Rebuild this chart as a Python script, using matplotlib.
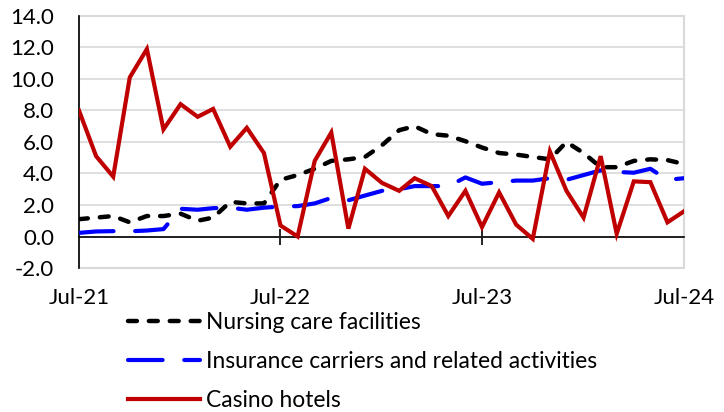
import matplotlib
matplotlib.use("Agg")
import matplotlib.pyplot as plt
import matplotlib.dates as mdates
from matplotlib.patches import Rectangle
from matplotlib.ticker import MultipleLocator, FormatStrFormatter
import pandas as pd

plt.rcParams["font.family"] = ["Lato", "DejaVu Sans"]
plt.rcParams["axes.unicode_minus"] = False

months = pd.date_range("2021-07-01", periods=37, freq="MS")

nursing = [1.1, 1.2, 1.3, 0.9, 1.3, 1.3, 1.45, 1.0, 1.2, 2.2, 2.1, 2.1,
           3.6, 3.9, 4.3, 4.8, 4.9, 5.05, 5.8, 6.75, 7.0, 6.5, 6.4, 6.05,
           5.65, 5.3, 5.2, 5.05, 4.9, 6.0, 5.3, 4.4, 4.4, 4.8, 4.9, 4.85, 4.6]
insurance = [0.23, 0.32, 0.34, 0.33, 0.38, 0.47, 1.76, 1.7, 1.8, 1.83, 1.7, 1.83,
             1.9, 1.93, 2.1, 2.45, 2.3, 2.6, 2.9, 3.0, 3.2, 3.2, 3.2, 3.75,
             3.35, 3.45, 3.55, 3.55, 3.7, 3.6, 3.9, 4.2, 4.1, 4.05, 4.3, 3.6, 3.7]
casino = [8.0, 5.1, 3.8, 10.1, 11.9, 6.8, 8.4, 7.6, 8.1, 5.7, 6.9, 5.3,
          0.7, 0.0, 4.8, 6.6, 0.5, 4.3, 3.4, 2.9, 3.7, 3.2, 1.3, 2.9,
          0.6, 2.8, 0.75, -0.15, 5.4, 2.9, 1.2, 5.1, 0.17, 3.5, 3.45, 0.9, 1.6]

fig = plt.figure(figsize=(7.24, 4.12), dpi=100)
ax = fig.add_axes([0.1091, 0.3495, 0.8357, 0.6117])

ax.plot(months, nursing, color="black", lw=3.2, dashes=(2.0, 2.7),
        dash_capstyle="round", label="Nursing care facilities", zorder=3)
ax.plot(months, insurance, color="#0000ff", lw=3.0, dashes=(8.3, 5.2),
        dash_capstyle="round", label="Insurance carriers and related activities", zorder=3)
ax.plot(months, casino, color="#c00000", lw=3.0, solid_joinstyle="miter",
        label="Casino hotels", zorder=4)

ax.set_ylim(-2, 14)
ax.set_xlim(months[0], months[-1])
ax.yaxis.set_major_locator(MultipleLocator(2))
ax.yaxis.set_major_formatter(FormatStrFormatter("%.1f"))
ax.xaxis.set_major_locator(mdates.MonthLocator(bymonth=7))
ax.xaxis.set_major_formatter(mdates.DateFormatter("%b-%y"))

ax.grid(axis="y", color="#d9d9d9", lw=1.2, zorder=0)
ax.set_axisbelow(True)

for s in ("top", "right"):
    ax.spines[s].set_visible(False)
ax.spines["left"].set_color("black")
ax.spines["left"].set_linewidth(1.2)
ax.spines["bottom"].set_position(("data", 0))
ax.spines["bottom"].set_color("black")
ax.spines["bottom"].set_linewidth(1.2)
ax.add_patch(Rectangle((0, 0), 1, 1, transform=ax.transAxes, fill=False,
                       edgecolor="#d9d9d9", lw=1.5, clip_on=False, zorder=1))

ax.tick_params(axis="y", length=0, pad=18, labelsize=16)
ax.tick_params(axis="x", direction="inout", length=11.5, width=1.2,
               pad=31, labelsize=16)

fig.legend(loc="center left", bbox_to_anchor=(0.1768, 0.122), frameon=False,
           fontsize=16.4, handlelength=3.15, handletextpad=0.26, labelspacing=0.78,
           borderpad=0, borderaxespad=0)

fig.savefig("out.png", dpi=100)
